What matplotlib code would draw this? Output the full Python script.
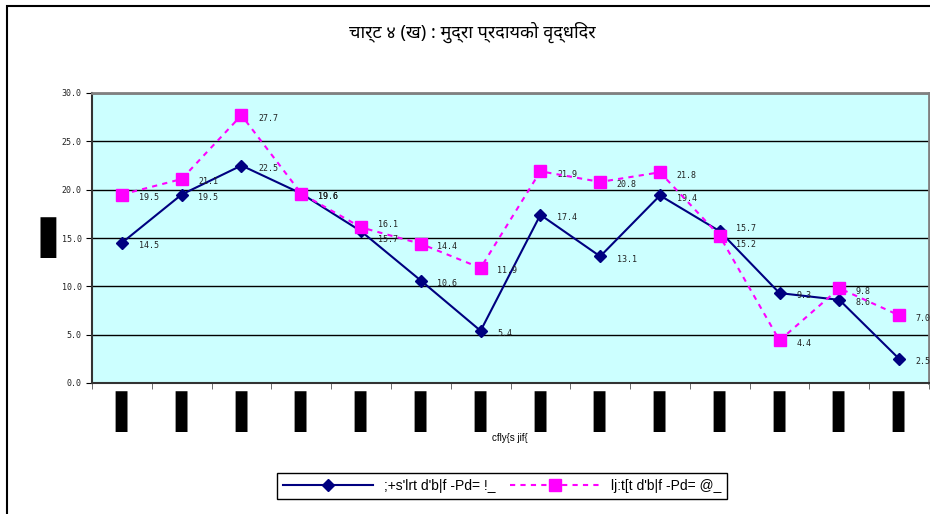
import matplotlib
matplotlib.use("Agg")
import matplotlib.pyplot as plt
import matplotlib.transforms as mtransforms
import numpy as np
from matplotlib.patches import Rectangle

# data
years = ['▍'] * 14
narrow_money = [14.5, 19.5, 22.5, 19.6, 15.7, 10.6, 5.4, 17.4, 13.1, 19.4, 15.7, 9.3, 8.6, 2.5]
broad_money = [19.5, 21.1, 27.7, 19.6, 16.1, 14.4, 11.9, 21.9, 20.8, 21.8, 15.2, 4.4, 9.8, 7.0]
narrow_label = ";+s'lrt d'b|f -Pd= !_"
broad_label = "lj:t[t d'b|f -Pd= @_"
title = "चार्ट ४ (ख) : मुद्रा प्रदायको वृद्धिदर"
xlabel = "cfly{s jif{"
ylabel = "▐"

plt.rcParams['font.family'] = ['Noto Sans', 'DejaVu Sans']

fig = plt.figure(figsize=(9.3, 5.14), dpi=100)
ax = fig.add_axes([92 / 930, 131 / 514, 837 / 930, 290 / 514])
ax.set_facecolor('#CCFFFF')

x = np.arange(len(narrow_money))
ax.plot(x, narrow_money, color='#000080', lw=1.5, marker='D', ms=6.5,
        mfc='#000080', mec='#000080', label=narrow_label, zorder=3)
ax.plot(x, broad_money, color='#FF00FF', lw=1.5, ls=(0, (2.5, 2.5)), marker='s', ms=9,
        mfc='#FF00FF', mec='#FF00FF', label=broad_label, zorder=4)

# data labels, pulled apart a little where the two series nearly meet
for xi, a, b in zip(x, narrow_money, broad_money):
    close = abs(a - b) < 1.0 and a != b
    dy_a = -6 if (close and a < b) else (2 if close else -2)
    dy_b = -6 if (close and b < a) else (2 if close else -2)
    ax.annotate(f"{a:.1f}", (xi, a), xytext=(12, dy_a), textcoords='offset points',
                fontsize=6, family='DejaVu Sans Mono', va='center', color='#222222')
    ax.annotate(f"{b:.1f}", (xi, b), xytext=(12, dy_b), textcoords='offset points',
                fontsize=6, family='DejaVu Sans Mono', va='center', color='#222222')

ax.set_xlim(-0.5, len(x) - 0.5)
ax.set_ylim(0, 30)
ax.set_yticks(np.arange(0, 31, 5))
ax.set_yticklabels([f"{v:.1f}" for v in np.arange(0, 31, 5)], fontsize=6,
                   family='DejaVu Sans Mono', color='#222222')
ax.yaxis.grid(True, color='black', lw=1)
ax.set_axisbelow(True)

ax.set_xticks(x)
ax.set_xticklabels(years, fontsize=29, va='top')
ax.tick_params(axis='x', length=0, pad=6)
# the block glyph sits in the left part of its cell, nudge it onto the category
shift = mtransforms.ScaledTranslation(9 / 100, 0, fig.dpi_scale_trans)
for lab in ax.get_xticklabels():
    lab.set_transform(lab.get_transform() + shift)
ax.set_xticks(np.arange(-0.5, len(x), 1), minor=True)
ax.tick_params(axis='x', which='minor', length=4, color='#555555')
ax.tick_params(axis='y', length=4)

for side in ['top', 'right']:
    ax.spines[side].set_color('#808080')
    ax.spines[side].set_linewidth(2)
for side in ['left', 'bottom']:
    ax.spines[side].set_color('#333333')
    ax.spines[side].set_linewidth(1.5)

fig.text(510 / 930, 1 - 438 / 514, xlabel, fontsize=7, ha='center', va='center',
         family='Liberation Sans')
fig.text(55 / 930, 1 - 238 / 514, ylabel, fontsize=29, ha='right', va='center',
         family='DejaVu Sans')
fig.text(472 / 930, 1 - 32 / 514, title, fontsize=13, fontweight='bold',
         ha='center', va='center')

fig.legend(loc='center', bbox_to_anchor=(502 / 930, 1 - 486 / 514), ncol=2,
           handlelength=6.5, frameon=True, fancybox=False,
           edgecolor='black', framealpha=1, borderpad=0.4, columnspacing=1,
           prop={'family': 'Liberation Sans', 'size': 10})

# outer chart frame
fig.patches.append(Rectangle((7 / 930, -0.1), 1.2, 1 - 6 / 514 + 0.1,
                             transform=fig.transFigure, fill=False,
                             edgecolor='black', lw=1.5))

fig.savefig('out.png', dpi=100)
